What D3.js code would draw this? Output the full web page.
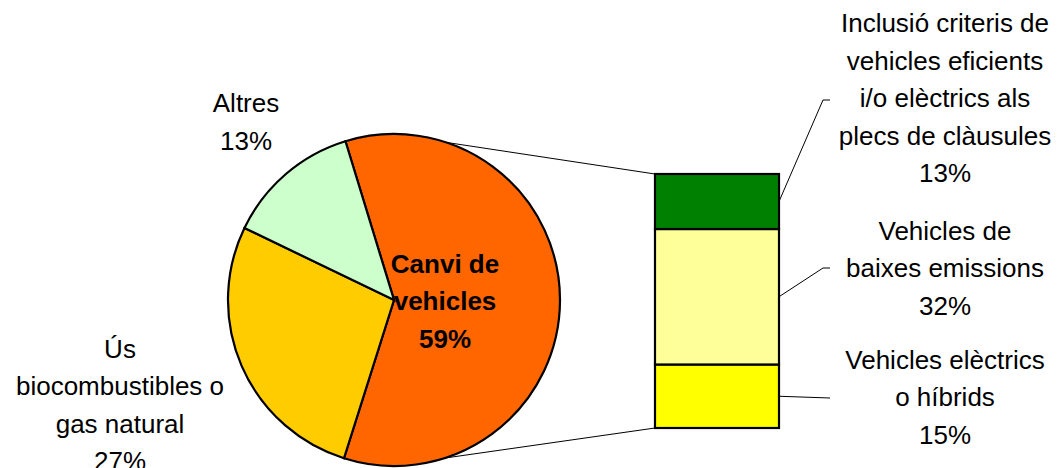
<!DOCTYPE html>
<html>
<head>
<meta charset="utf-8">
<script src="https://cdn.jsdelivr.net/npm/d3@7"></script>
<style>
  body { margin: 0; background: #fff; }
  text { font-family: "Liberation Sans", Arial, sans-serif; font-size: 26px; fill: #000; }
</style>
</head>
<body>
<div id="chart"></div>
<script>
// pie data
var pieNames = ["Canvi de vehicles", "Ús biocombustibles o gas natural", "Altres"];
var pieValues = [59, 27, 13];
var pieColors = ["#FF6600", "#FFCC00", "#CCFFCC"];
var pieLabels = [["Canvi de", "vehicles", "59%"], ["Ús", "biocombustibles o", "gas natural", "27%"], ["Altres", "13%"]];

// bar (breakdown of "Canvi de vehicles"), bottom to top
var barNames = ["Vehicles elèctrics o híbrids", "Vehicles de baixes emissions", "Inclusió criteris de vehicles eficients i/o elèctrics als plecs de clàusules"];
var barValues = [15, 32, 13];
var barColors = ["#FFFF00", "#FFFF99", "#008000"];
var barLabels = [["Vehicles elèctrics", "o híbrids", "15%"], ["Vehicles de", "baixes emissions", "32%"], ["Inclusió criteris de", "vehicles eficients", "i/o elèctrics als", "plecs de clàusules", "13%"]];

var width = 1062, height = 468;
var cx = 394, cy = 300, r = 166;
var lineH = 37.5;

var svg = d3.select("#chart").append("svg")
    .attr("width", width)
    .attr("height", height);

var start = -17 * Math.PI / 180;
var pie = d3.pie().sort(null).value(function (d) { return d; })
    .startAngle(start).endAngle(start + 2 * Math.PI);
var arc = d3.arc().innerRadius(0).outerRadius(r);
var arcs = pie(pieValues);

var g = svg.append("g").attr("transform", "translate(" + cx + "," + cy + ")");
g.selectAll("path")
    .data(arcs)
    .enter()
    .append("path")
    .attr("d", arc)
    .attr("fill", function (d, i) { return pieColors[i]; })
    .attr("stroke", "#000")
    .attr("stroke-width", 2.2);

// bar of pie
var barX = 655, barW = 124;
var total = d3.sum(barValues);
var y = d3.scaleLinear().domain([0, total]).range([428, 174]);
var cum = 0;
var barData = barValues.map(function (v, i) {
    var o = { y0: cum, y1: cum + v, i: i };
    cum += v;
    return o;
});

svg.selectAll("rect.seg")
    .data(barData)
    .enter()
    .append("rect")
    .attr("class", "seg")
    .attr("x", barX)
    .attr("y", function (d) { return y(d.y1); })
    .attr("width", barW)
    .attr("height", function (d) { return y(d.y0) - y(d.y1); })
    .attr("fill", function (d) { return barColors[d.i]; })
    .attr("stroke", "#000")
    .attr("stroke-width", 2.2);

// connector lines pie -> bar
var canvi = arcs[0];
var mid = (canvi.startAngle + canvi.endAngle) / 2;
var spread = 72 * Math.PI / 180;
function onArc(a) { return [cx + r * Math.sin(a), cy - r * Math.cos(a)]; }
var pTop = onArc(mid - spread), pBot = onArc(mid + spread);
svg.append("line")
    .attr("x1", pTop[0]).attr("y1", pTop[1])
    .attr("x2", barX).attr("y2", y(total))
    .attr("stroke", "#000").attr("stroke-width", 1);
svg.append("line")
    .attr("x1", pBot[0]).attr("y1", pBot[1])
    .attr("x2", barX).attr("y2", y(0))
    .attr("stroke", "#000").attr("stroke-width", 1);

function multiLine(lines, x, yc, bold) {
    var t = svg.append("text")
        .attr("text-anchor", "middle")
        .attr("font-weight", bold ? "bold" : null);
    var y0 = yc - (lines.length - 1) * lineH / 2;
    lines.forEach(function (s, k) {
        t.append("tspan")
            .attr("x", x)
            .attr("y", y0 + k * lineH)
            .attr("dy", "0.35em")
            .text(s);
    });
}

// pie labels
multiLine(pieLabels[0], 445, 301, true);
multiLine(pieLabels[1], 120, 405, false);
multiLine(pieLabels[2], 246, 122, false);

// bar labels and leader lines
var labelY = [397, 268, 98];
var bendY = [398, 268, 100];
barData.forEach(function (d) {
    multiLine(barLabels[d.i], 945, labelY[d.i], false);
    var ym = (y(d.y0) + y(d.y1)) / 2;
    var pts = d.i === 0
        ? [[barX + barW, ym], [830, bendY[d.i]]]
        : [[barX + barW, ym], [823, bendY[d.i]], [830, bendY[d.i]]];
    svg.append("path")
        .attr("d", d3.line()(pts))
        .attr("fill", "none")
        .attr("stroke", "#000")
        .attr("stroke-width", 1);
});
</script>
</body>
</html>
